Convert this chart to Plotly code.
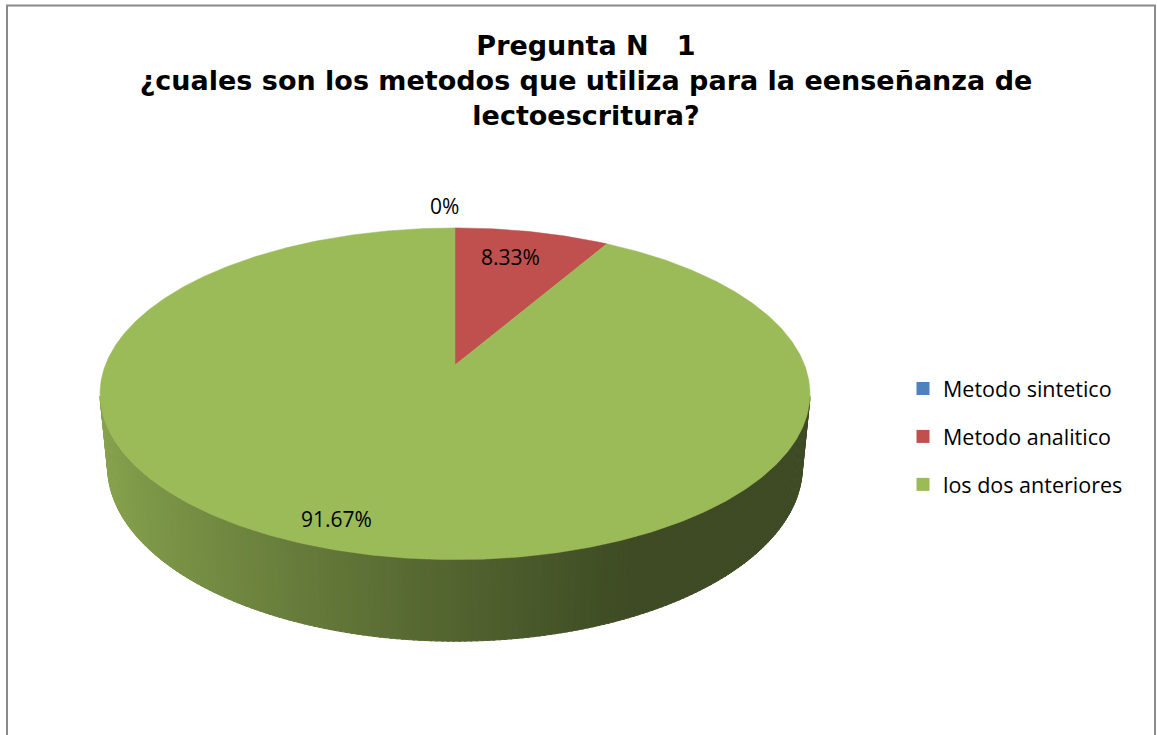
import numpy as np
import plotly.graph_objects as go

# ---------------- data ----------------
categories = ["Metodo sintetico", "Metodo analitico", "los dos anteriores"]
values = [0.0, 8.33, 91.67]
label_texts = ["0%", "8.33%", "91.67%"]
colors = ["#4F81BD", "#C0504D", "#9BBB59"]
title_lines = ["Pregunta N\u00a0\u00a0 1",
               "¿cuales son los metodos que utiliza para la eenseñanza de",
               "lectoescritura?"]

# ---------------- geometry of the 3-D pie (perspective projection) ----------------
W, H = 1157, 735
CX, CY = 455.0, 365.0          # projected centre of the top face
FOCAL = 1790.0
DIST = 5.12
TILT = np.radians(27.4)
S, C = np.sin(TILT), np.cos(TILT)
THICK = 0.236


def project(alpha_deg, r=1.0, z=0.0):
    a = np.radians(alpha_deg)
    u = r * np.sin(a)
    w = r * np.cos(a)
    depth = w * C - z * S + DIST
    X = CX + FOCAL * u / depth
    Y = CY - FOCAL * (w * S + z * C) / depth
    return X, Y


def hex_to_rgb(h):
    h = h.lstrip("#")
    return [int(h[i:i + 2], 16) for i in (0, 2, 4)]


fig = go.Figure()

total = float(sum(values))
starts, ends = [], []
acc = 0.0
for v in values:
    starts.append(acc / total * 360.0)
    acc += v
    ends.append(acc / total * 360.0)

# visible part of the side wall
lim = np.degrees(np.arccos(-1.0 / (DIST * C)))
vis0, vis1 = lim - 2.0, 360.0 - lim + 2.0

# side walls (drawn as thin shaded strips)
for i, col in enumerate(colors):
    a0 = max(starts[i], vis0)
    a1 = min(ends[i], vis1)
    if a1 <= a0:
        continue
    n = max(2, int((a1 - a0) / 0.8))
    al = np.linspace(a0, a1, n + 1)
    base = np.array(hex_to_rgb(col), dtype=float)
    for k in range(n):
        seg = np.linspace(al[k], al[k + 1] + (0.3 if k < n - 1 else 0), 3)
        xt, yt = project(seg, 1.0, 0.0)
        xb, yb = project(seg[::-1], 1.0, -THICK)
        xs = np.concatenate([xt, xb])
        ys = np.concatenate([yt, yb])
        xm = xs.mean()
        t = np.clip((xm - 100.0) / (630.0 - 100.0), 0, 1)
        f = 0.88 - 0.48 * t ** 0.8
        rgb = np.clip(base * f, 0, 255).round().astype(int)
        c = "rgb(%d,%d,%d)" % tuple(rgb)
        fig.add_trace(go.Scatter(x=xs, y=ys, mode="lines", fill="toself",
                                 fillcolor=c, line=dict(color=c, width=1),
                                 hoverinfo="skip", showlegend=False))

# top faces
for i, col in enumerate(colors):
    if ends[i] - starts[i] <= 0:
        continue
    al = np.linspace(starts[i], ends[i], max(3, int((ends[i] - starts[i]) * 2)))
    xa, ya = project(al)
    xs = np.concatenate([[CX], xa, [CX]])
    ys = np.concatenate([[CY], ya, [CY]])
    fig.add_trace(go.Scatter(x=xs, y=ys, mode="lines", fill="toself",
                             fillcolor=col, line=dict(color=col, width=0.5),
                             hoverinfo="skip", showlegend=False))

# legend entries
for name, col in zip(categories, colors):
    fig.add_trace(go.Scatter(x=[None], y=[None], mode="markers", name=name,
                             legendgroup=name,
                             marker=dict(symbol="square", size=13, color=col)))

# data labels
label_r = [1.0, 0.72, 0.86]
label_shift = [(-11, 22), (-3, 8), (-28, 2)]
for i, txt in enumerate(label_texts):
    mid = (starts[i] + ends[i]) / 2.0
    lx, ly = project(mid, label_r[i])
    fig.add_annotation(x=float(lx), y=float(ly), text=txt, showarrow=False,
                       xshift=label_shift[i][0], yshift=label_shift[i][1],
                       font=dict(family="Open Sans", size=21, color="#000000"))

fig.update_layout(
    width=W, height=H,
    margin=dict(l=0, r=0, t=0, b=0),
    paper_bgcolor="white", plot_bgcolor="white",
    xaxis=dict(range=[0, W], visible=False, fixedrange=True),
    yaxis=dict(range=[H, 0], visible=False, fixedrange=True),
    title=dict(text="<b>" + "<br>".join(title_lines) + "</b>",
               x=586 / W, xanchor="center", y=1 - 55 / H, yanchor="top",
               font=dict(family="DejaVu Sans", size=27, color="#000000")),
    legend=dict(x=903 / W, xanchor="left", y=1 - 368 / H, yanchor="top",
                traceorder="grouped", tracegroupgap=17,
                font=dict(family="Open Sans", size=21.5, color="#000000"),
                bgcolor="rgba(0,0,0,0)"),
    shapes=[dict(type="rect", xref="x", yref="y", x0=7, y0=5.5, x1=1155, y1=760,
                 line=dict(color="#8A8A8A", width=2), fillcolor="rgba(0,0,0,0)",
                 layer="below")],
    showlegend=True,
)

fig.write_html("out.html",
               config={"displayModeBar": False},
               post_script="document.body.style.margin='0px';"
                           "document.body.style.overflow='hidden';")
